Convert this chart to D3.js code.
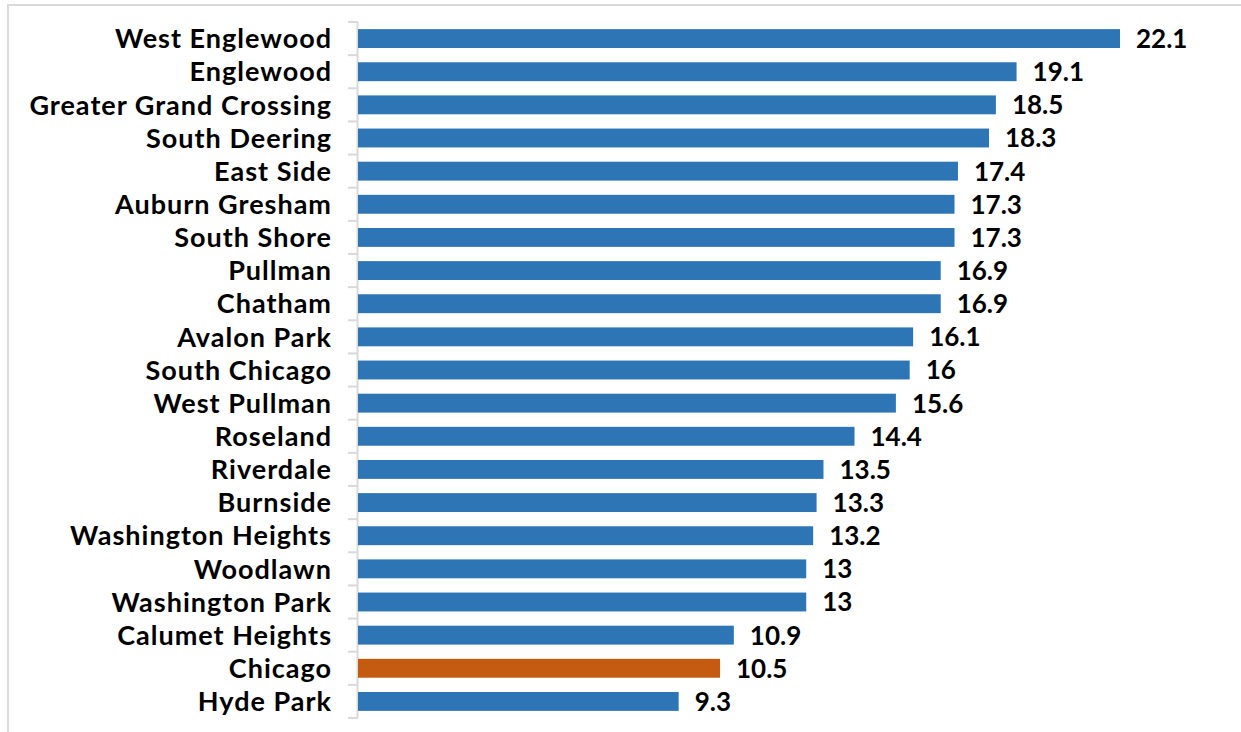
<!DOCTYPE html>
<html>
<head>
<meta charset="utf-8">
<script src="https://cdn.jsdelivr.net/npm/d3@7"></script>
<style>
  html, body { margin: 0; padding: 0; background: #ffffff; }
  svg { display: block; }
  text { font-family: "Lato", "DejaVu Sans", sans-serif; font-weight: 700; fill: #000; }
</style>
</head>
<body>
<svg id="chart" width="1241" height="732"></svg>
<script>
// Community areas, top to bottom
const areas = [
  "West Englewood", "Englewood", "Greater Grand Crossing", "South Deering",
  "East Side", "Auburn Gresham", "South Shore", "Pullman", "Chatham",
  "Avalon Park", "South Chicago", "West Pullman", "Roseland", "Riverdale",
  "Burnside", "Washington Heights", "Woodlawn", "Washington Park",
  "Calumet Heights", "Chicago", "Hyde Park"
];
const rates = [
  22.1, 19.1, 18.5, 18.3, 17.4, 17.3, 17.3, 16.9, 16.9, 16.1, 16,
  15.6, 14.4, 13.5, 13.3, 13.2, 13, 13, 10.9, 10.5, 9.3
];
const cityName = "Chicago";
const xMax = 24;

const svg = d3.select("#chart");
const W = 1241, H = 732;

// chart area frame (top and left edges)
svg.append("path")
  .attr("d", `M8,${H} L8,5 L${W},5`)
  .attr("fill", "none")
  .attr("stroke", "#d9d9d9")
  .attr("stroke-width", 2);

const x0 = 358;
const x = d3.scaleLinear().domain([0, xMax]).range([x0, x0 + xMax * 34.48]);
const y = d3.scaleBand().domain(areas).range([22, 718]).paddingInner(0.43).paddingOuter(0.215);

const data = areas.map((a, i) => ({ area: a, value: rates[i] }));

// category axis with boundary ticks
const step = y.step();
const boundaries = d3.range(areas.length + 1).map(i => 22 + i * step);
const axisG = svg.append("g");
axisG.append("line")
  .attr("x1", x0 - 0.5).attr("x2", x0 - 0.5)
  .attr("y1", boundaries[0]).attr("y2", boundaries[boundaries.length - 1])
  .attr("stroke", "#d9d9d9").attr("stroke-width", 2);
axisG.selectAll("line.tick").data(boundaries).join("line")
  .attr("class", "tick")
  .attr("x1", x0 - 10).attr("x2", x0)
  .attr("y1", d => d).attr("y2", d => d)
  .attr("stroke", "#d9d9d9").attr("stroke-width", 2);

// bars
svg.append("g").selectAll("rect").data(data).join("rect")
  .attr("x", x(0))
  .attr("y", d => y(d.area))
  .attr("width", d => x(d.value) - x(0))
  .attr("height", y.bandwidth())
  .attr("fill", d => d.area === cityName ? "#c55a11" : "#2e75b6");

// category labels
svg.append("g").selectAll("text").data(data).join("text")
  .attr("x", 332)
  .attr("y", d => y(d.area) + y.bandwidth() / 2)
  .attr("dy", "0.36em")
  .attr("text-anchor", "end")
  .attr("font-size", 27)
  .attr("letter-spacing", 1)
  .text(d => d.area);

// value labels
svg.append("g").selectAll("text").data(data).join("text")
  .attr("x", d => x(d.value) + 16)
  .attr("y", d => y(d.area) + y.bandwidth() / 2)
  .attr("dy", "0.36em")
  .attr("font-size", 26)
  .text(d => d.value);
</script>
</body>
</html>
